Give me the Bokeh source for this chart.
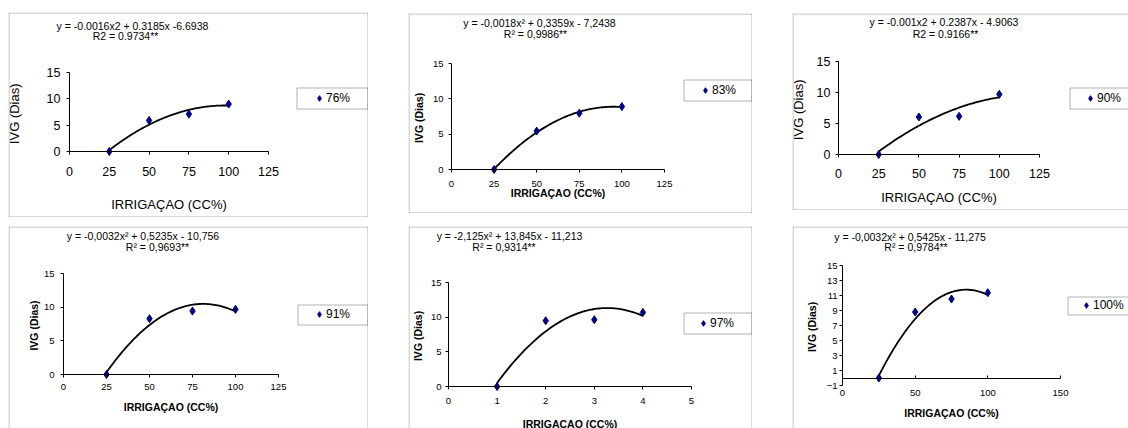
import numpy as np
from bokeh.plotting import figure
from bokeh.models import (Label, Legend, LegendItem, BoxAnnotation,
                          FixedTicker, Range1d, Spacer)
from bokeh.layouts import row, column
from bokeh.embed import file_html
from bokeh.resources import INLINE

# ---------------- data ----------------
irrig_cc = [25, 50, 75, 100]
irrig_97 = [1, 2, 3, 4]
ivg_76 = [0.0, 5.9, 7.1, 9.0]
ivg_83 = [0.0, 5.44, 7.97, 8.9]
ivg_90 = [0.0, 6.05, 6.15, 9.7]
ivg_91 = [0.0, 8.29, 9.42, 9.67]
ivg_97 = [0.0, 9.49, 9.63, 10.69]
ivg_100 = [0.0, 8.8, 10.53, 11.37]
series_labels = ["76%", "83%", "90%", "91%", "97%", "100%"]
eq_lines = [
    "y = -0.0016x2 + 0.3185x -6.6938",
    "y = -0,0018x\u00b2 + 0,3359x - 7,2438",
    "y = -0.001x2 + 0.2387x - 4.9063",
    "y = -0,0032x\u00b2 + 0,5235x - 10,756",
    "y = -2,125x\u00b2 + 13,845x - 11,213",
    "y = -0,0032x\u00b2 + 0,5425x - 11,275",
]
r2_lines = [
    "R2 = 0.9734**",
    "R\u00b2 = 0,9986**",
    "R2 = 0.9166**",
    "R\u00b2 = 0,9693**",
    "R\u00b2 = 0,9314**",
    "R\u00b2 = 0,9784**",
]
x_ticks_cc = [0, 25, 50, 75, 100, 125]
x_ticks_97 = [0, 1, 2, 3, 4, 5]
x_ticks_100 = [0, 50, 100, 150]
y_ticks = [0, 5, 10, 15]
y_ticks_100 = [-1, 1, 3, 5, 7, 9, 11, 13, 15]
x_title = "IRRIGA\u00c7AO (CC%)"
y_title = "IVG  (Dias)"

FONT = "Liberation Sans"
NAVY = "#000080"


def panel(xs, ys, label, eq, r2, xticks, yticks, xr, yr, g):
    L, T, W, H = g["box"]
    px0, px1, py0, py1 = g["map"]   # page px of xmin, xmax, ymin, ymax
    xmin, xmax = xr
    ymin, ymax = yr
    kx = (px1 - px0) / (xmax - xmin)
    ky = (py0 - py1) / (ymax - ymin)
    x_start = xmin - (px0 - L) / kx
    x_end = xmax + (L + W - px1) / kx
    y_start = ymin - (T + H - py0) / ky
    y_end = ymax + (py1 - T) / ky

    def rx(px):
        return px - L

    def ry(py):
        return (T + H) - py

    p = figure(width=W, height=H, x_range=Range1d(x_start, x_end),
               y_range=Range1d(y_start, y_end), min_border=0,
               output_backend="svg", toolbar_location=None,
               background_fill_color="white", border_fill_color="white",
               outline_line_color=None)
    p.grid.visible = False

    small = g["small"]
    tick_fs = "9.5px" if small else "12.5px"
    title_fs = "10.5px" if small else "13px"
    title_style = "bold" if small else "normal"

    # y axis (crosses at x = xmin)
    ya = p.yaxis[0]
    ya.fixed_location = xmin
    ya.ticker = FixedTicker(ticks=yticks)
    ya.bounds = (ymin, ymax)
    ya.major_tick_out = 3
    ya.major_tick_in = 0
    ya.minor_tick_out = 0
    ya.minor_tick_in = 0
    ya.axis_line_color = "black"
    ya.major_tick_line_color = "black"
    ya.major_label_text_font = FONT
    ya.major_label_text_font_size = tick_fs
    ya.major_label_text_color = "black"
    ya.major_label_standoff = g["y_so"]
    ya.axis_label = y_title
    ya.axis_label_text_font = FONT
    ya.axis_label_text_font_size = title_fs
    ya.axis_label_text_font_style = title_style
    ya.axis_label_text_color = "black"
    ya.axis_label_standoff = g["y_als"]

    # x axis (crosses at y = 0)
    xa = p.xaxis[0]
    xa.fixed_location = 0
    xa.ticker = FixedTicker(ticks=xticks)
    xa.bounds = (xmin, xmax)
    xa.axis_line_color = "black"
    xa.major_tick_in = g.get("x_tick_in", 0)
    xa.major_tick_out = g.get("x_tick_out", 3)
    xa.minor_tick_out = 0
    xa.minor_tick_in = 0
    xa.major_tick_line_color = "black"
    xa.major_label_text_font = FONT
    xa.major_label_text_font_size = tick_fs
    xa.major_label_text_color = "black"
    xa.major_label_standoff = g["x_so"]
    xa.axis_label = x_title
    xa.axis_label_text_font = FONT
    xa.axis_label_text_font_size = title_fs
    xa.axis_label_text_font_style = title_style
    xa.axis_label_text_color = "black"
    xa.axis_label_standoff = g["x_als"]

    # trend line (2nd order polynomial fitted to the points)
    coef = np.polyfit(xs, ys, 2)
    xf = np.linspace(min(xs), max(xs), 80)
    p.line(xf, np.polyval(coef, xf), line_color="black", line_width=1.8)
    r = p.scatter(xs, ys, marker="diamond", size=8,
                  fill_color=NAVY, line_color=NAVY, line_width=1)

    # equation and R2
    for txt, (ex, ey) in zip((eq, r2), g["eq"]):
        p.add_layout(Label(x=rx(ex), y=ry(ey), x_units="screen", y_units="screen",
                           text=txt, text_align="center", text_baseline="middle",
                           text_font=FONT, text_font_size="10.5px", text_color="black"))

    # legend
    lL, lR, lT, lB, lD = g["leg"]
    gh = 14
    gw = 14
    cy = (lT + lB) / 2
    leg = Legend(items=[LegendItem(label=label, renderers=[r])],
                 location=(rx(lD - gw / 2), ry(cy + gh / 2)),
                 padding=0, margin=0, spacing=0,
                 border_line_color=None, background_fill_alpha=0,
                 glyph_width=gw, glyph_height=gh, label_height=gh,
                 label_standoff=-2, label_text_font=FONT,
                 label_text_font_size="12px", label_text_color="black")
    p.add_layout(leg)
    p.add_layout(BoxAnnotation(left=rx(lL + 0.5), right=rx(lR + 0.5),
                               top=ry(lT + 0.5), bottom=ry(lB + 0.5),
                               left_units="screen", right_units="screen",
                               top_units="screen", bottom_units="screen",
                               fill_alpha=0, line_color="black", line_width=1,
                               level="overlay"))

    # chart border
    right = W - 0.5 if not g.get("open_right") else W + 50
    bottom = 0.5 if not g.get("open_bottom") else -50
    p.add_layout(BoxAnnotation(left=0.5, right=right, top=H - 0.5, bottom=bottom,
                               left_units="screen", right_units="screen",
                               top_units="screen", bottom_units="screen",
                               fill_alpha=0, line_color="black", line_width=1,
                               level="overlay"))
    return p


p1 = panel(irrig_cc, ivg_76, series_labels[0], eq_lines[0], r2_lines[0],
           x_ticks_cc, y_ticks, (0, 125), (0, 15),
           dict(box=(8, 12, 360, 205), map=(69, 268, 151, 72), small=False,
                y_so=6, y_als=22, x_so=12, x_als=18,
                eq=((132, 25), (125, 35)), leg=(296, 367, 87, 108, 319)))
p2 = panel(irrig_cc, ivg_83, series_labels[1], eq_lines[1], r2_lines[1],
           x_ticks_cc, y_ticks, (0, 125), (0, 15),
           dict(box=(408, 13, 344, 200), map=(451, 664, 169, 63), small=True,
                y_so=5, y_als=5, x_so=8, x_als=-3,
                eq=((539, 22.7), (535, 33.3)), leg=(683, 751, 79, 100, 705)))
p3 = panel(irrig_cc, ivg_90, series_labels[2], eq_lines[2], r2_lines[2],
           x_ticks_cc, y_ticks, (0, 125), (0, 15),
           dict(box=(792, 13, 336, 197), map=(838, 1039, 154, 61), small=False,
                y_so=5, y_als=8, x_so=11, x_als=9, open_right=True,
                eq=((943.5, 21.7), (945, 33.3)), leg=(1069, 1132, 87, 108, 1090)))
p4 = panel(irrig_cc, ivg_91, series_labels[3], eq_lines[3], r2_lines[3],
           x_ticks_cc, y_ticks, (0, 125), (0, 15),
           dict(box=(8, 226, 360, 202), map=(63, 278, 374, 273), small=True,
                y_so=6, y_als=1, x_so=6, x_als=8, open_bottom=True,
                eq=((142.5, 235.7), (157, 246.3)), leg=(297, 367, 304, 324, 319)))
p5 = panel(irrig_97, ivg_97, series_labels[4], eq_lines[4], r2_lines[4],
           x_ticks_97, y_ticks, (0, 5), (0, 15),
           dict(box=(408, 226, 344, 202), map=(448, 691, 386, 282), small=True,
                y_so=4, y_als=4, x_so=8, x_als=11, open_bottom=True,
                eq=((509, 235.7), (503.5, 246.3)), leg=(683, 751, 312, 333, 703)))
p6 = panel(irrig_cc, ivg_100, series_labels[5], eq_lines[5], r2_lines[5],
           x_ticks_100, y_ticks_100, (0, 150), (-1, 15),
           dict(box=(792, 226, 336, 202), map=(842, 1060, 385, 265), small=True,
                x_tick_in=3, x_tick_out=0,
                y_so=2, y_als=6, x_so=12, x_als=7, open_bottom=True, open_right=True,
                eq=((909.5, 236.3), (915.5, 246.3)), leg=(1067, 1132, 296, 314, 1086)))

col1 = column(Spacer(width=360, height=12), p1, Spacer(width=360, height=9), p4)
col2 = column(Spacer(width=344, height=13), p2, Spacer(width=344, height=13), p5)
col3 = column(Spacer(width=336, height=13), p3, Spacer(width=336, height=16), p6)
layout = row(Spacer(width=8, height=428), col1, Spacer(width=40, height=428), col2,
             Spacer(width=40, height=428), col3)

open("out.html", "w").write(file_html(layout, INLINE))
